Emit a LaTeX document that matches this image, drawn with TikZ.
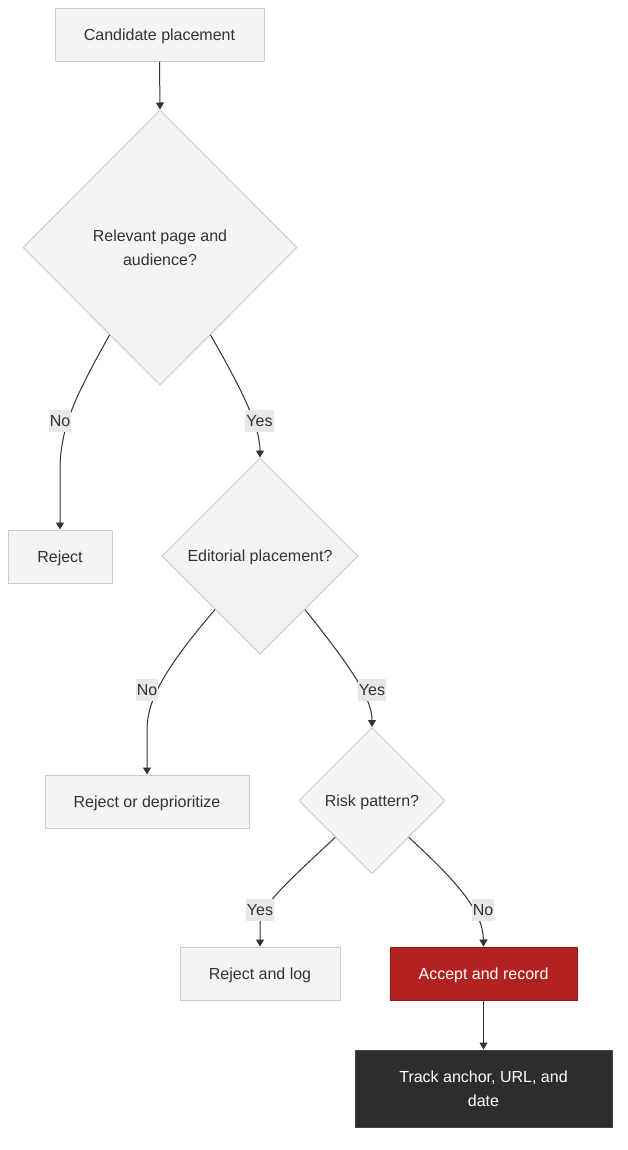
\documentclass[tikz,border=0pt]{standalone}
\usepackage{fontspec}
\setmainfont{Liberation Sans}
\usetikzlibrary{shapes.geometric,arrows.meta}
\definecolor{boxfill}{HTML}{F4F4F4}
\definecolor{boxline}{HTML}{CCCCCC}
\definecolor{txt}{HTML}{333333}
\definecolor{edge}{HTML}{333333}
\definecolor{lblfill}{HTML}{E8E8E8}
\definecolor{redfill}{HTML}{B22222}
\definecolor{redline}{HTML}{8E1A1A}
\definecolor{darkfill}{HTML}{2D2D2D}
\definecolor{darkline}{HTML}{444444}
\newcommand{\px}{0.75pt}
\tikzset{
  every node/.style={font=\fontsize{12pt}{18pt}\selectfont, text=txt, text depth=0pt},
  procbox/.style={rectangle, draw=boxline, fill=boxfill, line width=0.75pt, inner sep=0pt, minimum height=53*\px, align=center},
  decbox/.style={diamond, draw=boxline, fill=boxfill, line width=0.75pt, inner sep=0pt, align=center},
  accbox/.style={procbox, fill=redfill, draw=redline, text=white},
  trackbox/.style={procbox, fill=darkfill, draw=darkline, text=white, minimum height=77*\px},
  lbl/.style={fill=lblfill, inner xsep=0.75pt, inner ysep=0pt, minimum height=22*\px, text=txt},
  arr/.style={draw=edge, line width=0.75pt, -{Triangle[length=7*\px,width=8*\px]}}
}
\begin{document}
\begin{tikzpicture}[x=\px, y=-\px]
\useasboundingbox (0,0) rectangle (628,1150);
\node[procbox, minimum width=209*\px] (cand) at (159.5,34.5) {Candidate placement};
\node[decbox, minimum width=274*\px, minimum height=275*\px] (d1) at (160,247.5) {Relevant page and\\audience?};
\node[procbox, minimum width=104*\px] (rej) at (60,556.5) {Reject};
\node[decbox, minimum width=196*\px, minimum height=196*\px] (d2) at (260,556) {Editorial placement?};
\node[procbox, minimum width=204*\px] (rrd) at (147,801.5) {Reject or deprioritize};
\node[decbox, minimum width=146*\px, minimum height=146*\px] (d3) at (372,800.5) {Risk pattern?};
\node[procbox, minimum width=160*\px] (ral) at (260,973.5) {Reject and log};
\node[accbox, minimum width=187*\px] (acc) at (483.5,973.5) {Accept and record};
\node[trackbox, minimum width=257*\px] (trk) at (483.5,1088.5) {Track anchor, URL, and\\date};

\draw[arr] (cand.south) -- (d1.north);
\draw[arr] (d1.240) .. controls (78,392) and (60,425) .. (60,470) -- (rej.north);
\draw[arr] (d1.300) .. controls (248,400) and (260,430) .. (d2.north);
\draw[arr] (d2.230) .. controls (165,668) and (147,700) .. (147,730) -- (rrd.north);
\draw[arr] (d2.310) .. controls (355,672) and (372,700) .. (d3.north);
\draw[arr] (d3.225) .. controls (290,880) and (260,905) .. (260,925) -- (ral.north);
\draw[arr] (d3.315) .. controls (455,880) and (483,910) .. (acc.north);
\draw[arr] (acc.south) -- (trk.north);

\node[lbl] (l1) at (60,421) {No};
\node[lbl] (l2) at (259.5,421) {Yes};
\node[lbl] (l3) at (147,690) {No};
\node[lbl] (l4) at (372,690) {Yes};
\node[lbl] (l5) at (260,910) {Yes};
\node[lbl] (l6) at (483,910) {No};
\end{tikzpicture}
\end{document}
